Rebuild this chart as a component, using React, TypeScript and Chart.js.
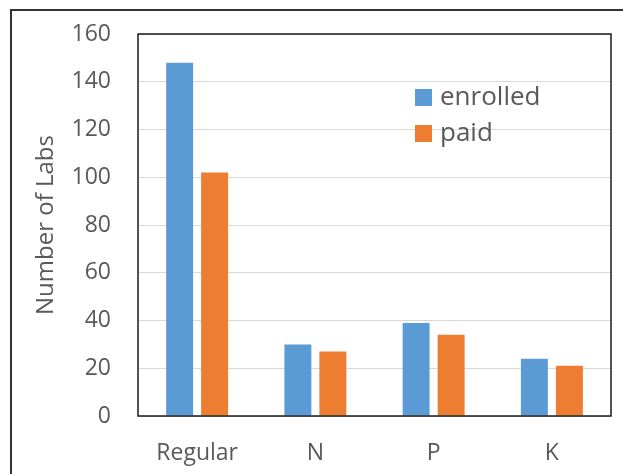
import React, { useEffect, useRef } from "react";
import { Chart, registerables } from "chart.js";

Chart.register(...registerables);

const categories = ["Regular", "N", "P", "K"];
const enrolled = [148, 30, 39, 24];
const paid = [102, 27, 34, 21];
const seriesNames = ["enrolled", "paid"];
const seriesColors = ["#5B9BD5", "#ED7D31"];
const yTicks = { min: 0, max: 160, step: 20 };

const FONT = "'Open Sans', 'Liberation Sans', sans-serif";
const TEXT_COLOR = "#595959";

const frameAndLegend = {
  id: "frameAndLegend",
  afterDraw(chart: any) {
    const { ctx, chartArea } = chart;
    ctx.save();
    ctx.strokeStyle = "#1a1a1a";
    ctx.lineWidth = 1.5;
    ctx.strokeRect(chartArea.left, chartArea.top, chartArea.right - chartArea.left, chartArea.bottom - chartArea.top);
    // legend
    const bx = chartArea.left + 277;
    let by = chartArea.top + 55;
    ctx.font = `26px ${FONT}`;
    ctx.textBaseline = "middle";
    ctx.textAlign = "left";
    chart.data.datasets.forEach((ds: any) => {
      ctx.fillStyle = ds.backgroundColor;
      ctx.fillRect(bx, by, 17, 17);
      ctx.fillStyle = TEXT_COLOR;
      ctx.fillText(ds.label, bx + 25, by + 9);
      by += 36;
    });
    ctx.restore();
  },
};

export default function App() {
  const ref = useRef<HTMLCanvasElement>(null);
  useEffect(() => {
    if (!ref.current) return;
    const chart = new Chart(ref.current, {
      type: "bar",
      data: {
        labels: categories,
        datasets: [
          { label: seriesNames[0], data: enrolled, backgroundColor: seriesColors[0] },
          { label: seriesNames[1], data: paid, backgroundColor: seriesColors[1] },
        ],
      },
      options: {
        animation: false,
        responsive: false,
        maintainAspectRatio: false,
        layout: { padding: { left: 0, right: 12, top: 34, bottom: 0 } },
        datasets: { bar: { categoryPercentage: 0.592, barPercentage: 0.77 } },
        plugins: { legend: { display: false }, tooltip: { enabled: false } },
        scales: {
          x: {
            grid: { display: false, drawTicks: false },
            border: { display: false },
            ticks: { color: TEXT_COLOR, font: { family: FONT, size: 23 }, padding: 24 },
            afterFit: (s: any) => { s.height = 58; s.paddingLeft = 0; s.paddingRight = 0; },
          },
          y: {
            min: yTicks.min,
            max: yTicks.max,
            grid: { color: "#D9D9D9", lineWidth: 1, drawTicks: false },
            border: { display: false },
            ticks: { stepSize: yTicks.step, color: TEXT_COLOR, font: { family: FONT, size: 23 }, padding: 27 },
            title: {
              display: true,
              text: "Number of Labs",
              color: TEXT_COLOR,
              font: { family: FONT, size: 24 },
              padding: { top: 32, bottom: 0 },
            },
            afterFit: (s: any) => { s.width = 138; s.paddingTop = 0; s.paddingBottom = 0; },
          },
        },
      },
      plugins: [frameAndLegend],
    });
    return () => chart.destroy();
  }, []);
  return (
    <div style={{ position: "fixed", left: 0, top: 0, width: 623, height: 474, overflow: "hidden", background: "#fff" }}>
      <div style={{ position: "absolute", left: 10, top: 9, width: 700, height: 600, border: "2px solid #333", boxSizing: "border-box" }} />
      <canvas ref={ref} width={623} height={474} style={{ position: "absolute", left: 0, top: 0 }} />
    </div>
  );
}
